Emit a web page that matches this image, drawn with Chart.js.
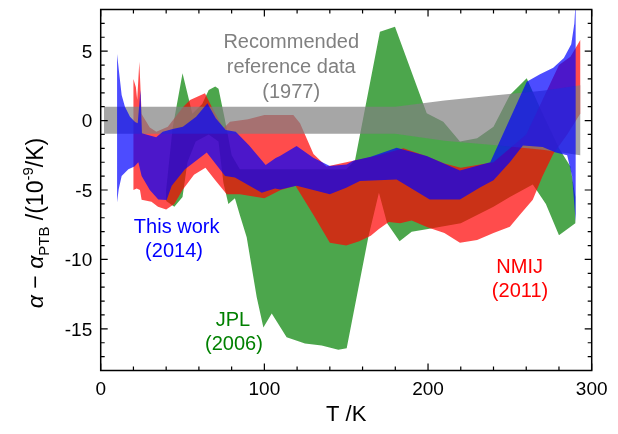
<!DOCTYPE html>
<html>
<head>
<meta charset="utf-8">
<script src="https://cdn.jsdelivr.net/npm/chart.js@4.4.0/dist/chart.umd.min.js"></script>
<style>
  html, body { margin: 0; padding: 0; background: #fff; }
</style>
</head>
<body>
<canvas id="myChart" width="618" height="434"></canvas>
<script>
// tick labels
var xTickLabels = [0, 100, 200, 300];
var yTickLabels = [5, 0, -5, -10, -15];

// Recommended reference data (1977), gray band
var grayT  = [2, 180, 210, 240, 270, 293];
var grayHi = [1.0, 1.0, 1.45, 1.8, 2.15, 2.55];
var grayLo = [-0.95, -0.95, -1.45, -1.75, -2.1, -2.5];

// This work (2014), blue band
var blueTopT = [10, 11.5, 12.8, 14.8, 17.9, 21, 22.6, 24.3, 25.2, 27.8, 33.9, 37.9, 44, 50.2, 58.3, 65.2, 70.3, 76.4, 82.5, 90.6, 100.8, 106.9, 109.5, 119.7, 129.9, 140, 150.3, 154.3, 165, 180.8, 199.2, 219.5, 238, 260.3, 268.4, 276.5, 283, 287.5, 289.4, 290.2];
var blueTop  = [4.8, 3.2, 1.84, 1.0, 0.27, -0.1, -0.2, 2.2, -0.92, -1.0, -1.2, -0.8, -0.6, -0.45, 0.27, 1.24, 0.16, -0.68, -0.8, -1.77, -3.2, -2.7, -2.56, -1.84, -2.67, -3.28, -3.16, -2.9, -2.6, -1.95, -2.56, -3.6, -3.0, 2.8, 3.33, 3.8, 4.5, 5.5, 7.0, 8.6];
var blueBotT = [10, 11, 12.8, 16.9, 20.6, 23, 25, 30, 35.2, 40.3, 43.4, 51.5, 64.8, 76, 82, 98.4, 106.5, 109.6, 119.7, 140, 150, 158.4, 180.8, 201, 219.5, 232, 240, 250, 258, 270, 278, 285, 288, 290.2];
var blueBot  = [-5.9, -4.95, -4.0, -3.5, -3.3, -3.0, -4.0, -5.0, -5.68, -5.72, -4.7, -3.5, -2.3, -4.0, -4.1, -5.2, -4.9, -4.96, -4.7, -5.3, -4.84, -4.36, -4.24, -5.68, -5.68, -4.8, -4.3, -3.0, -1.8, -1.9, -2.3, -2.5, -4.0, -7.3];

// NMIJ (2011), red band
var redTopT = [20, 21.5, 22.3, 23.6, 25, 26, 30, 34, 41, 50.5, 54.6, 63.7, 68.8, 75, 79, 90, 100, 110, 117.7, 121.8, 130, 138, 150, 170, 185, 200, 210, 220, 240, 260, 270, 280, 287, 290, 293];
var redTop  = [3.0, 2.4, 1.5, 4.24, 0.5, 0.27, -0.5, -0.8, -0.45, 1.0, 1.48, 1.96, 0.76, -0.56, -0.09, 0.1, 0.4, 0.4, 0.4, -0.2, -2.4, -3.3, -3.0, -2.5, -2.0, -2.6, -3.1, -3.4, -3.0, -1.0, 1.5, 4.0, 4.6, 5.2, 5.8];
var redBotT = [20, 22, 24, 25, 31, 35, 40, 45, 50, 57, 64, 70, 77, 85, 100, 110, 119, 130, 140, 150, 158, 165, 170, 176, 183, 190, 200, 210, 219.5, 230, 240, 250, 256, 264, 270, 276.5, 285, 293];
var redBot  = [-5.0, -4.9, -5.0, -5.7, -5.85, -6.2, -6.4, -6.0, -5.0, -3.9, -3.4, -4.3, -5.3, -5.3, -5.6, -5.0, -4.7, -6.8, -8.8, -9.0, -8.7, -8.3, -7.8, -7.3, -7.4, -7.2, -7.7, -8.1, -8.8, -8.6, -8.1, -7.65, -6.8, -5.7, -4.0, -2.4, -1.0, 0.5];

// JPL (2006), green band
var greenTopT = [40, 44, 50, 56, 62, 66, 70, 72, 76, 80, 85, 150, 155.4, 170.6, 179.8, 199.2, 209.3, 219.5, 230, 240, 250, 260.3, 270, 280, 287, 290];
var greenTop  = [-5.0, -0.5, 3.4, 0.5, 1.2, 2.2, 2.45, 2.3, 0.0, -2.5, -3.5, -3.5, -2.85, 6.4, 6.76, 0.52, -0.08, -1.5, -1.27, -0.45, 1.84, 3.04, 0.5, -2.0, -3.3, -5.5];
var greenBotT = [40, 45, 50, 53, 58, 66, 72, 75, 78, 82, 85, 89.2, 95.3, 99.4, 104.5, 113.6, 124.8, 135, 145.2, 150.3, 163.5, 170, 175, 182.6, 190, 200, 220, 240, 250, 264, 272, 280, 290];
var greenBot  = [-5.8, -6.2, -5.5, -3.0, -1.5, -1.0, -1.5, -4.5, -6.0, -5.6, -6.8, -8.4, -12.7, -14.9, -13.9, -15.6, -16.05, -16.2, -16.5, -16.4, -8.4, -5.2, -7.4, -8.7, -8.0, -7.8, -7.4, -6.2, -5.5, -4.6, -6.0, -8.25, -7.4];

// closed outline: upper edge left->right, lower edge right->left
function band(topT, top, botT, bot) {
  var pts = [];
  for (var i = 0; i < topT.length; i++) pts.push({ x: topT[i], y: top[i] });
  for (var j = botT.length - 1; j >= 0; j--) pts.push({ x: botT[j], y: bot[j] });
  return pts;
}

function bandSet(label, pts, color) {
  return {
    label: label,
    data: pts,
    fill: 'shape',
    backgroundColor: color,
    borderColor: 'rgba(0,0,0,0)',
    borderWidth: 0,
    pointRadius: 0,
    tension: 0
  };
}

var notes = [
  { text: 'Recommended', color: '#808080', x: 116.4, y: 5.2 },
  { text: 'reference data', color: '#808080', x: 116.4, y: 3.42 },
  { text: '(1977)', color: '#808080', x: 116.4, y: 1.66 },
  { text: 'This work', color: '#0000ff', x: 46.4, y: -8.11 },
  { text: '(2014)', color: '#0000ff', x: 44.8, y: -9.83 },
  { text: 'JPL', color: '#008000', x: 80.8, y: -14.8 },
  { text: '(2006)', color: '#008000', x: 81.4, y: -16.53 },
  { text: 'NMIJ', color: '#ff0000', x: 256, y: -10.97 },
  { text: '(2011)', color: '#ff0000', x: 256.2, y: -12.72 }
];

var FONT = '"Liberation Sans", Arial, sans-serif';

var frame = {
  id: 'frame',
  afterDraw: function (chart) {
    var ctx = chart.ctx, a = chart.chartArea;
    var xs = chart.scales.x, ys = chart.scales.y;
    ctx.save();

    // annotations
    ctx.font = '20px ' + FONT;
    ctx.textAlign = 'center';
    ctx.textBaseline = 'alphabetic';
    notes.forEach(function (n) {
      ctx.fillStyle = n.color;
      ctx.fillText(n.text, xs.getPixelForValue(n.x), ys.getPixelForValue(n.y));
    });

    // frame + inward ticks on all four sides
    ctx.strokeStyle = '#000';
    ctx.lineWidth = 1.5;
    ctx.strokeRect(a.left, a.top, a.right - a.left, a.bottom - a.top);
    ctx.lineWidth = 1.2;
    ctx.beginPath();
    var t, v, px, py, len;
    for (t = 0; t <= 300; t += 20) {
      px = xs.getPixelForValue(t);
      len = t % 100 === 0 ? 7 : 4;
      ctx.moveTo(px, a.bottom); ctx.lineTo(px, a.bottom - len);
      ctx.moveTo(px, a.top); ctx.lineTo(px, a.top + len);
    }
    for (v = -18; v <= 8; v++) {
      py = ys.getPixelForValue(v);
      len = v % 5 === 0 ? 7 : 4;
      ctx.moveTo(a.left, py); ctx.lineTo(a.left + len, py);
      ctx.moveTo(a.right, py); ctx.lineTo(a.right - len, py);
    }
    ctx.stroke();

    // tick labels
    ctx.fillStyle = '#000';
    ctx.font = '19px ' + FONT;
    ctx.textAlign = 'center';
    xTickLabels.forEach(function (t) {
      ctx.fillText(String(t), xs.getPixelForValue(t), a.bottom + 24.5);
    });
    ctx.textAlign = 'right';
    yTickLabels.forEach(function (v) {
      ctx.fillText(String(v), a.left - 8.5, ys.getPixelForValue(v) + 6.8);
    });

    // x title
    ctx.textAlign = 'center';
    ctx.font = '22px ' + FONT;
    ctx.fillText('T /K', (a.left + a.right) / 2, 421);

    // y title, built from pieces
    var parts = [
      { t: '\u03b1', f: 'italic 23px ' + FONT, dy: 0 },
      { t: ' \u2212 ', f: '23px ' + FONT, dy: 0 },
      { t: '\u03b1', f: 'italic 23px ' + FONT, dy: 0 },
      { t: 'PTB', f: '15px ' + FONT, dy: 6 },
      { t: ' /(10', f: '23px ' + FONT, dy: 0 },
      { t: '-9', f: '15px ' + FONT, dy: -10 },
      { t: '/K)', f: '23px ' + FONT, dy: 0 }
    ];
    var total = 0;
    parts.forEach(function (p) { ctx.font = p.f; p.w = ctx.measureText(p.t).width; total += p.w; });
    ctx.translate(43, 223);
    ctx.rotate(-Math.PI / 2);
    ctx.textAlign = 'left';
    var cx = -total / 2;
    parts.forEach(function (p) {
      ctx.font = p.f;
      ctx.fillText(p.t, cx, p.dy);
      cx += p.w;
    });
    ctx.restore();
  }
};

var ctx = document.getElementById('myChart').getContext('2d');
var chart = new Chart(ctx, {
  type: 'line',
  data: {
    datasets: [
      bandSet('This work (2014)', band(blueTopT, blueTop, blueBotT, blueBot), 'rgba(0,0,255,0.7)'),
      bandSet('Recommended (1977)', band(grayT, grayHi, grayT, grayLo), 'rgba(128,128,128,0.7)'),
      bandSet('NMIJ (2011)', band(redTopT, redTop, redBotT, redBot), 'rgba(255,0,0,0.7)'),
      bandSet('JPL (2006)', band(greenTopT, greenTop, greenBotT, greenBot), 'rgba(0,128,0,0.7)')
    ]
  },
  options: {
    responsive: false,
    animation: false,
    devicePixelRatio: 1,
    layout: { padding: { left: 100.7, right: 26.3, top: 9.5, bottom: 63.5 } },
    plugins: { legend: { display: false }, tooltip: { enabled: false } },
    scales: {
      x: { type: 'linear', min: 0, max: 300, display: false },
      y: { type: 'linear', min: -18, max: 8, display: false }
    }
  },
  plugins: [frame]
});
</script>
</body>
</html>
